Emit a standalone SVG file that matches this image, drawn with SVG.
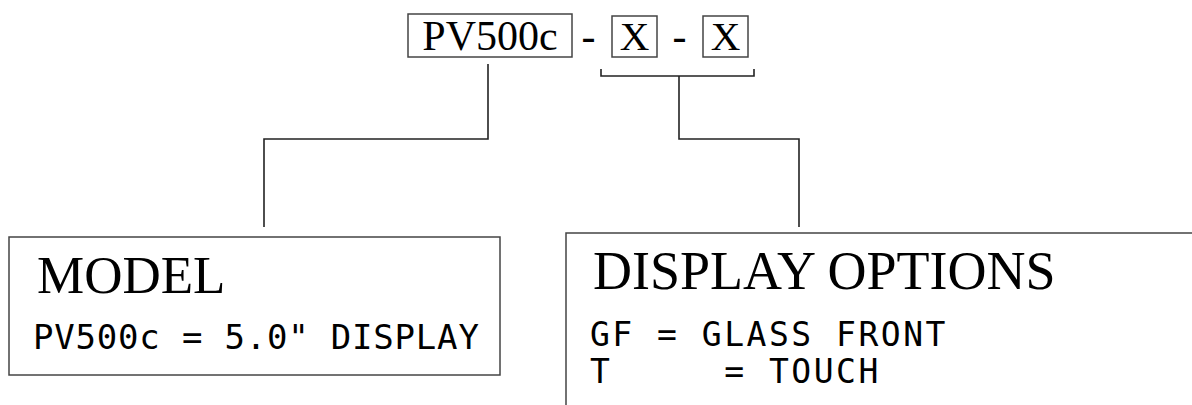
<svg xmlns="http://www.w3.org/2000/svg" width="1192" height="405" viewBox="0 0 1192 405">
<style>
.box{fill:none;stroke:#444;stroke-width:1.5}
.con{fill:none;stroke:#222;stroke-width:1.6}
.serif{font-family:"Liberation Serif","Times New Roman",serif;fill:#000}
.mono{font-family:"DejaVu Sans Mono","Liberation Mono",monospace;fill:#000;white-space:pre}
</style>
<rect width="1192" height="405" fill="#fff"/>
<g id="code">
<rect class="box" x="408" y="14" width="164" height="43"/>
<text class="serif" x="490" y="50" font-size="42" text-anchor="middle">PV500c</text>
<text class="serif" x="588.5" y="50" font-size="42" text-anchor="middle">-</text>
<rect class="box" x="612" y="16" width="45" height="41"/>
<text class="serif" x="634.5" y="50" font-size="41" text-anchor="middle">X</text>
<text class="serif" x="679.5" y="50" font-size="42" text-anchor="middle">-</text>
<rect class="box" x="703" y="16" width="45" height="41"/>
<text class="serif" x="725.5" y="50" font-size="41" text-anchor="middle">X</text>
</g>
<g id="connectors">
<polyline class="con" points="488,64 488,139 264,139 264,227"/>
<polyline class="con" points="601,69 601,76 754,76 754,69"/>
<polyline class="con" points="679,76 679,139 799,139 799,227"/>
</g>
<g id="model">
<rect class="box" x="9" y="237" width="491" height="138"/>
<text class="serif" x="37" y="293" font-size="53">MODEL</text>
<text class="mono" x="33" y="349" font-size="34" letter-spacing="0.8">PV500c = 5.0" DISPLAY</text>
</g>
<g id="display-options">
<path class="box" d="M1192,233 H566 V405"/>
<text class="serif" x="593" y="289" font-size="54">DISPLAY OPTIONS</text>
<text class="mono" x="590" y="346" font-size="33" letter-spacing="2.5" xml:space="preserve">GF = GLASS FRONT</text>
<text class="mono" x="590" y="383" font-size="33" letter-spacing="2.5" xml:space="preserve">T     = TOUCH</text>
</g>
</svg>
